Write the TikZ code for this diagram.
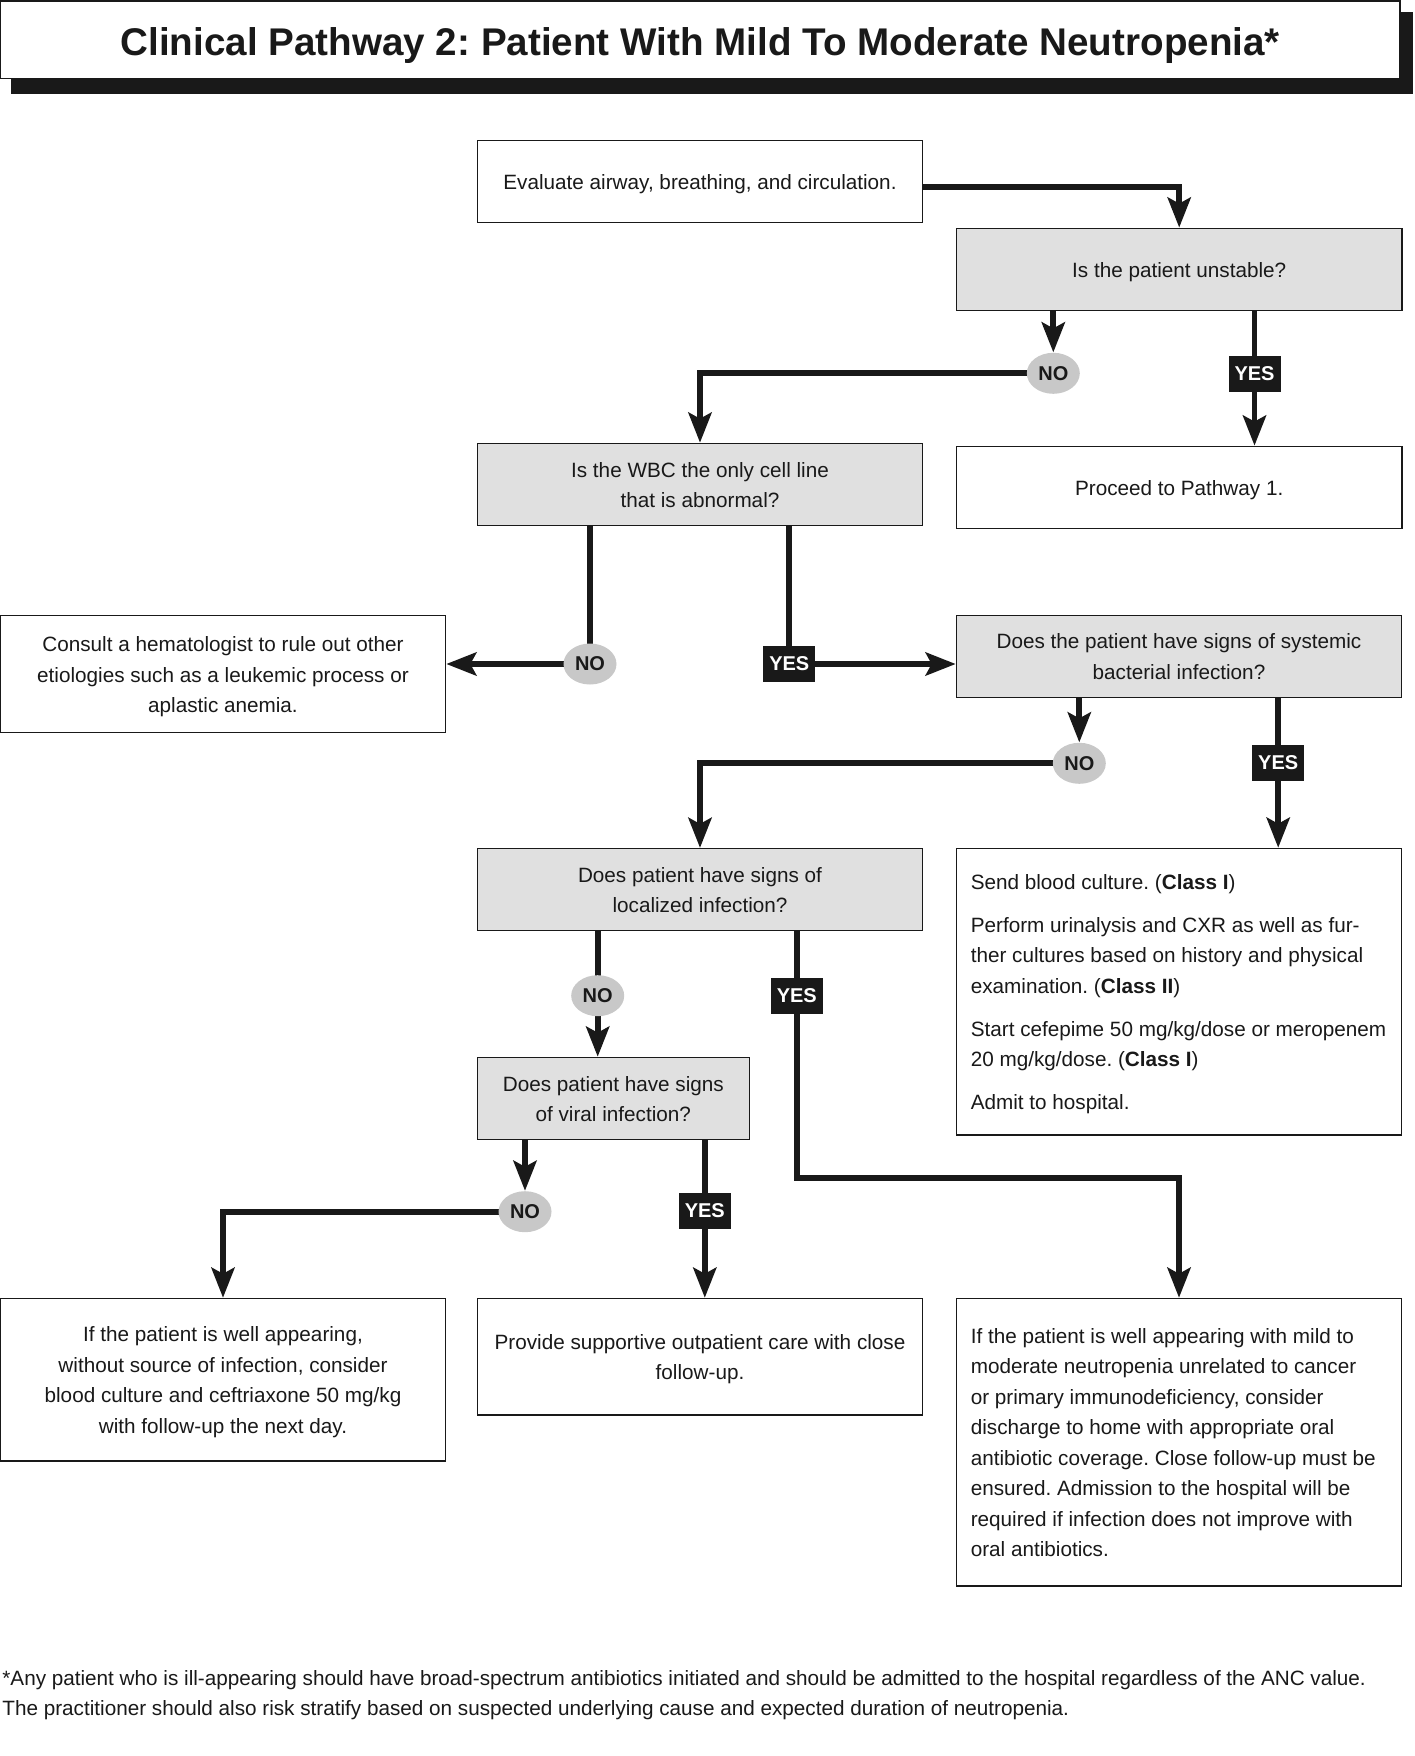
\documentclass[tikz,border=0pt]{standalone}
\usepackage{fontspec}
\setmainfont{Liberation Sans}
\usetikzlibrary{arrows.meta,shapes.geometric,calc}
\definecolor{boxgray}{RGB}{224,224,224}
\definecolor{ovalgray}{RGB}{200,200,200}
\definecolor{ink}{RGB}{25,25,25}
\frenchspacing
\newcommand\mybody{\fontsize{10.35pt}{15.25pt}\selectfont}
\newcommand\mylab{\fontsize{10pt}{12pt}\selectfont\bfseries}
\newcommand\mytitle{\fontsize{19.3pt}{23pt}\selectfont\bfseries}
\newcommand\topstrut{\rule{0pt}{10.5pt}}
\newcommand\botstrut{\rule[-2.5pt]{0pt}{2.5pt}}
\pgfdeclarelayer{back}
\pgfdeclarelayer{bg}
\pgfsetlayers{back,bg,main}
\tikzset{
  struts/.style={execute at begin node={\topstrut}, execute at end node={\botstrut}},
  box/.style={draw=ink, line width=0.6pt, fill=white, minimum width=222.7pt, minimum height=41pt, inner sep=0pt, align=center, font=\mybody, text=ink, struts},
  qbox/.style={box, fill=boxgray},
  plain/.style={draw=ink, line width=0.6pt, fill=white, minimum width=222.7pt, inner sep=0pt},
  para/.style={anchor=west, align=left, font=\mybody, text=ink, inner sep=0pt, struts},
  nolab/.style={ellipse, fill=ovalgray, minimum width=26.5pt, minimum height=20.5pt, inner sep=0pt, font=\mylab, text=ink},
  yeslab/.style={rectangle, fill=ink, text=white, minimum width=26pt, minimum height=18pt, inner sep=0pt, font=\mylab},
  conn/.style={line width=2.9pt, draw=ink, line join=miter},
  arr/.style={conn, -{Stealth[length=15pt, width=11.5pt, inset=3pt]}},
  foot/.style={anchor=base west, font=\mybody, text=ink, inner sep=0pt},
}
\begin{document}
\begin{tikzpicture}[x=0.5pt,y=-0.5pt]
\useasboundingbox (0,0) rectangle (1414,1756);
\begin{pgfonlayer}{back}
\fill[white] (0,0) rectangle (1414,1756);
\end{pgfonlayer}

% title with shadow
\fill[ink] (11,11.7) rectangle (1413.3,94);
\node[draw=ink, line width=0.8pt, fill=white, minimum width=699.75pt, minimum height=38.65pt, inner sep=0pt, font=\mytitle, text=ink, text height=15.4pt, text depth=0pt] (title) at (700.25,39.65) {Clinical Pathway 2: Patient With Mild To Moderate Neutropenia*};

% boxes
\node[box] (A) at (700,181.2) {Evaluate airway, breathing, and circulation.};
\node[qbox] (B) at (1179.2,269.2) {Is the patient unstable?};
\node[qbox] (C) at (700,484.3) {\topstrut Is the WBC the only cell line\\that is abnormal?};
\node[box] (D) at (1179.2,487.2) {Proceed to Pathway 1.};
\node[box, minimum height=58.3pt] (E) at (223,674) {\topstrut Consult a hematologist to rule out other\\etiologies such as a leukemic process or\\aplastic anemia.};
\node[qbox] (F) at (1179,656.2) {\topstrut Does the patient have signs of systemic\\bacterial infection?};
\node[qbox] (G) at (700,889.5) {\topstrut Does patient have signs of\\localized infection?};
\node[plain, minimum height=143.35pt] (H) at (1179,991.7) {};
\node[para] (Htext) at ([xshift=7.35pt]H.west) {\topstrut Send blood culture. (\textbf{Class I})\\[6.25pt]
Perform urinalysis and CXR as well as fur-\\
ther cultures based on history and physical\\
examination. (\textbf{Class II})\\[6.25pt]
Start cefepime 50 mg/kg/dose or meropenem\\
20 mg/kg/dose. (\textbf{Class I})\\[6.25pt]
Admit to hospital.};
\node[qbox, minimum width=136pt] (I) at (613.3,1098.3) {\topstrut Does patient have signs\\of viral infection?};
\node[box, minimum height=81.35pt] (J) at (223,1379.7) {\topstrut If the patient is well appearing,\\without source of infection, consider\\blood culture and ceftriaxone 50 mg/kg\\with follow-up the next day.};
\node[box, minimum height=58.35pt] (K) at (700,1356.7) {\topstrut Provide supportive outpatient care with close\\follow-up.};
\node[plain, minimum height=143.85pt] (L) at (1179,1442.2) {};
\node[para] (Ltext) at ([xshift=7.35pt]L.west) {\topstrut If the patient is well appearing with mild to\\
moderate neutropenia unrelated to cancer\\
or primary immunodeficiency, consider\\
discharge to home with appropriate oral\\
antibiotic coverage. Close follow-up must be\\
ensured. Admission to the hospital will be\\
required if infection does not improve with\\
oral antibiotics.};

% labels
\node[nolab] (NO1) at (1053.3,373.3) {NO};
\node[yeslab] (YES1) at (1254.5,373.9) {YES};
\node[nolab] (NO2) at (590,664) {NO};
\node[yeslab] (YES2) at (789.3,664) {YES};
\node[nolab] (NO3) at (1079.3,763.3) {NO};
\node[yeslab] (YES3) at (1278.2,763) {YES};
\node[nolab] (NO4) at (597.7,995.7) {NO};
\node[yeslab] (YES4) at (796.8,995.5) {YES};
\node[nolab] (NO5) at (525,1211.7) {NO};
\node[yeslab] (YES5) at (704.8,1210.8) {YES};

\coordinate (bendG) at (YES4 |- 0,1178.3);

% connectors
\begin{pgfonlayer}{bg}
\draw[arr] ([yshift=-3pt]A.east) -| (B.north);
\draw[arr] (B.south -| NO1) -- (NO1.north);
\draw[arr] (NO1.center) -| (C.north);
\draw[arr] (B.south -| YES1) -- (D.north -| YES1);
\draw[arr] (C.south -| NO2) -- (NO2.center) -- (NO2.center -| E.east);
\draw[arr] (C.south -| YES2) -- (YES2.center) -- (YES2.center -| F.west);
\draw[arr] (F.south -| NO3) -- (NO3.north);
\draw[arr] (NO3.center) -| (G.north);
\draw[arr] (F.south -| YES3) -- (H.north -| YES3);
\draw[arr] (G.south -| NO4) -- (I.north -| NO4);
\draw[arr] (G.south -| YES4) -- (bendG) -| (L.north);
\draw[arr] (I.south -| NO5) -- (NO5.north);
\draw[arr] (NO5.center) -| (J.north);
\draw[arr] (I.south -| YES5) -- (K.north -| YES5);
\end{pgfonlayer}

% footnote
\node[foot] (fn1) at (2,1685) {*Any patient who is ill-appearing should have broad-spectrum antibiotics initiated and should be admitted to the hospital regardless of the ANC value.};
\node[foot] (fn2) at (2,1715) {The practitioner should also risk stratify based on suspected underlying cause and expected duration of neutropenia.};
\end{tikzpicture}
\end{document}
